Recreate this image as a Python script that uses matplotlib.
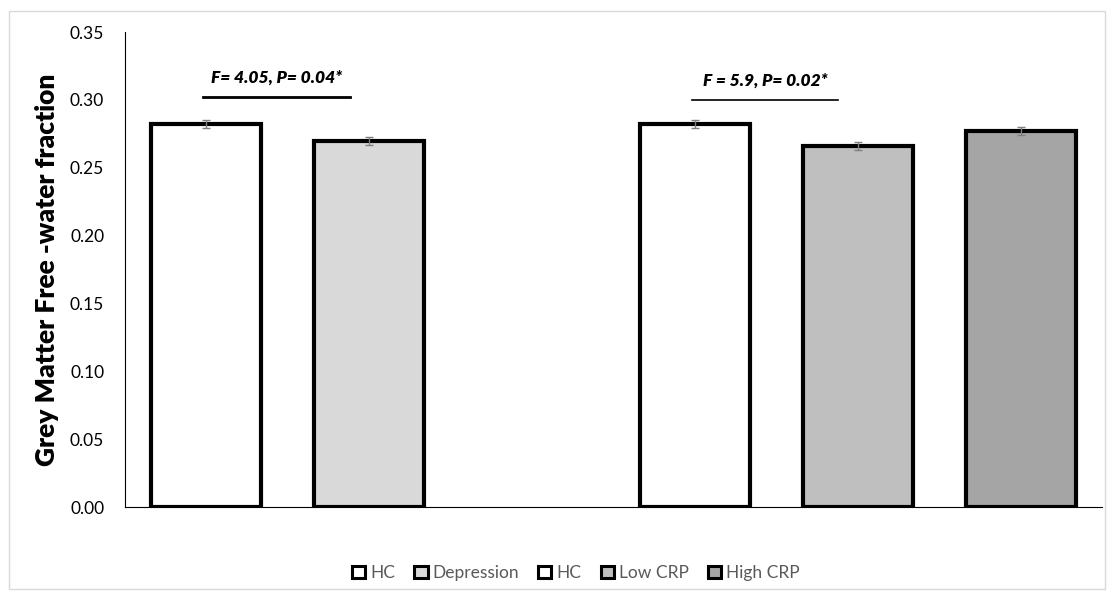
import numpy as np
import matplotlib.pyplot as plt
from matplotlib.patches import Rectangle, Patch

# Group labels and free-water fraction means
groups = ['HC', 'Depression', 'HC', 'Low CRP', 'High CRP']
means = [0.282, 0.270, 0.282, 0.266, 0.277]
errors = [0.003, 0.003, 0.003, 0.003, 0.003]
slots = [0, 1, 3, 4, 5]
fills = ['#ffffff', '#d9d9d9', '#ffffff', '#bfbfbf', '#a5a5a5']

stats = ['F= 4.05, P= 0.04*', 'F = 5.9, P= 0.02*']
stat_spans = [(-0.02, 0.88), (2.98, 3.88)]
stat_line_y = [0.302, 0.300]
stat_text_y = [0.316, 0.314]
stat_lw = [2.0, 1.2]

plt.rcParams['font.family'] = ['Lato', 'DejaVu Sans']

fig = plt.figure(figsize=(11.07, 5.92), dpi=100)
ax = fig.add_axes([125 / 1107, 1 - 507 / 592, 977 / 1107, 475 / 592])

ax.bar(slots, means, width=0.675, color=fills, edgecolor='black', linewidth=3, zorder=2)
ax.errorbar(slots, means, yerr=errors, fmt='none', ecolor='#7f7f7f', elinewidth=1,
            capsize=3, capthick=1, zorder=3)

for label, (x0, x1), ly, ty, lw in zip(stats, stat_spans, stat_line_y, stat_text_y, stat_lw):
    ax.plot([x0, x1], [ly, ly], color='black', linewidth=lw, clip_on=False)
    ax.text((x0 + x1) / 2, ty, label, ha='center', va='center', fontsize=12.5,
            fontweight='heavy', fontstyle='italic')

ax.set_xlim(-0.5, 5.5)
ax.set_ylim(0, 0.35)
ax.set_yticks(np.arange(0, 0.351, 0.05))
ax.set_yticklabels([f'{v:.2f}' for v in np.arange(0, 0.351, 0.05)], fontsize=12.5)
ax.set_xticks([])
ax.tick_params(axis='y', length=0, pad=15)
for side in ['top', 'right']:
    ax.spines[side].set_visible(False)
ax.spines['left'].set_linewidth(0.8)
ax.spines['bottom'].set_linewidth(0.8)
ax.set_ylabel('Grey Matter Free -water fraction', fontsize=19, fontweight='heavy', labelpad=8)

handles = [Patch(facecolor=c, edgecolor='black', linewidth=2.2) for c in fills]
leg = fig.legend(handles, groups, loc='center', bbox_to_anchor=(576 / 1107, 1 - 573 / 592),
                 ncol=5, frameon=False, fontsize=12.5, handlelength=0.75, handleheight=0.75,
                 handletextpad=0.3, columnspacing=1.1)
for t in leg.get_texts():
    t.set_color('#595959')

# light outer frame around the chart area
fig.patches.append(Rectangle((9 / 1107, 0.005), 1 - 11 / 1107, 1 - 11 / 592 - 0.005,
                             transform=fig.transFigure, fill=False,
                             edgecolor='#d9d9d9', linewidth=1))

fig.savefig('out.png', dpi=100)
